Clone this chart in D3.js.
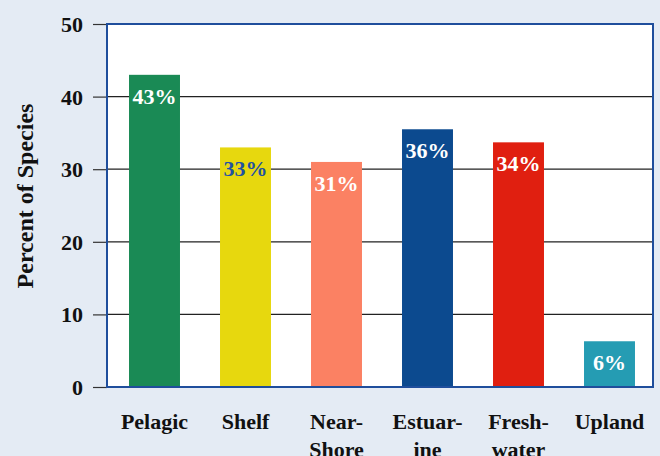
<!DOCTYPE html>
<html>
<head>
<meta charset="utf-8">
<script src="https://d3js.org/d3.v7.min.js"></script>
<style>
  body { margin: 0; background: #e4ebf4; }
  svg { display: block; }
</style>
</head>
<body>
<div id="chart"></div>
<script>
// habitat categories, each label can wrap to two lines
var categories = ["Pelagic", "Shelf", "Near-Shore", "Estuarine", "Freshwater", "Upland"];
var labelLines = [["Pelagic"], ["Shelf"], ["Near-", "Shore"], ["Estuar-", "ine"], ["Fresh-", "water"], ["Upland"]];
var values = [43, 33, 31, 35.5, 33.7, 6.3];
var barColors = ["#1a8a55", "#e7d80e", "#fb8163", "#0c4a8f", "#e01f10", "#259cb3"];
var labelColors = ["#ffffff", "#1f52a0", "#ffffff", "#ffffff", "#ffffff", "#ffffff"];
var yTicks = [0, 10, 20, 30, 40, 50];

var FONT = "Liberation Serif";
var width = 660, height = 456;
var plot = { left: 107, right: 653, top: 24, bottom: 387 };

var svg = d3.select("#chart").append("svg")
    .attr("width", width)
    .attr("height", height);

svg.append("rect")
    .attr("width", width)
    .attr("height", height)
    .attr("fill", "#e4ebf4");

var x = d3.scaleBand()
    .domain(categories)
    .range([plot.left + 2, plot.right + 2])
    .paddingInner(0.44)
    .paddingOuter(0.22);

var y = d3.scaleLinear()
    .domain([0, 50])
    .range([plot.bottom, plot.top]);

// white plot area
svg.append("rect")
    .attr("x", plot.left)
    .attr("y", plot.top)
    .attr("width", plot.right - plot.left)
    .attr("height", plot.bottom - plot.top)
    .attr("fill", "#ffffff");

// ticks + tick labels
var yAxis = svg.append("g")
    .attr("transform", "translate(" + plot.left + ",0)")
    .call(d3.axisLeft(y)
        .tickValues(yTicks)
        .tickSize(14)
        .tickPadding(10));
yAxis.attr("font-family", FONT).attr("font-size", 22).attr("font-weight", "bold");
yAxis.select(".domain").remove();
yAxis.selectAll(".tick line").attr("stroke", "#333").attr("stroke-width", 1.2);
yAxis.selectAll(".tick text").attr("fill", "#111").attr("dy", "0.34em");

// gridlines
svg.append("g")
    .selectAll("line")
    .data(yTicks.slice(1, -1))
    .enter().append("line")
    .attr("x1", plot.left)
    .attr("x2", plot.right)
    .attr("y1", function(d) { return y(d); })
    .attr("y2", function(d) { return y(d); })
    .attr("stroke", "#222")
    .attr("stroke-width", 1.2);

// bars
svg.append("g")
    .selectAll("rect")
    .data(values)
    .enter().append("rect")
    .attr("x", function(d, i) { return x(categories[i]); })
    .attr("y", function(d) { return y(d); })
    .attr("width", x.bandwidth())
    .attr("height", function(d) { return y(0) - y(d); })
    .attr("fill", function(d, i) { return barColors[i]; });

// value labels
svg.append("g")
    .attr("font-family", FONT)
    .attr("font-size", 22)
    .attr("font-weight", "bold")
    .selectAll("text")
    .data(values)
    .enter().append("text")
    .attr("x", function(d, i) { return x(categories[i]) + x.bandwidth() / 2; })
    .attr("y", function(d) { return y(d) + 29; })
    .attr("text-anchor", "middle")
    .attr("fill", function(d, i) { return labelColors[i]; })
    .text(function(d) { return Math.round(d) + "%"; });

// plot border
svg.append("rect")
    .attr("x", plot.left)
    .attr("y", plot.top)
    .attr("width", plot.right - plot.left)
    .attr("height", plot.bottom - plot.top)
    .attr("fill", "none")
    .attr("stroke", "#1f4e9c")
    .attr("stroke-width", 2);

// category labels
var catLabels = svg.append("g")
    .attr("font-family", FONT)
    .attr("font-size", 22)
    .attr("font-weight", "bold")
    .selectAll("text")
    .data(labelLines)
    .enter().append("text")
    .attr("text-anchor", "middle")
    .attr("fill", "#111")
    .attr("transform", function(d, i) {
        return "translate(" + (x(categories[i]) + x.bandwidth() / 2) + ",429)";
    });
catLabels.selectAll("tspan")
    .data(function(d) { return d; })
    .enter().append("tspan")
    .attr("x", 0)
    .attr("y", function(d, i) { return i * 28; })
    .text(function(d) { return d; });

// y axis title
svg.append("text")
    .attr("transform", "translate(33,196) rotate(-90)")
    .attr("text-anchor", "middle")
    .attr("fill", "#111")
    .attr("font-family", FONT)
    .attr("font-size", 24)
    .attr("font-weight", "bold")
    .text("Percent of Species");
</script>
</body>
</html>
